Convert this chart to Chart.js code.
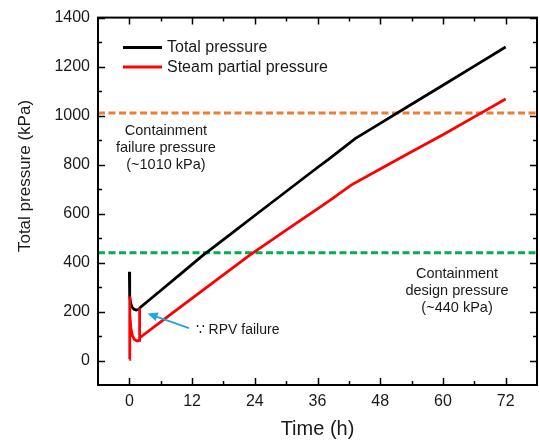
<!DOCTYPE html>
<html>
<head>
<meta charset="utf-8">
<script src="https://cdn.jsdelivr.net/npm/chart.js@4.4.1/dist/chart.umd.min.js"></script>
<style>
  html, body { margin: 0; padding: 0; background: #fff; }
  #wrap { width: 540px; height: 441px; }
</style>
</head>
<body>
<div id="wrap"><canvas id="pressureChart" width="540" height="441"></canvas></div>
<script>
// containment pressure history, time in hours, pressure in kPa
var timeTotal = [0, 0.03, 0.1, 0.25, 0.5, 0.9, 1.3, 1.7, 1.95, 2.2, 6, 10, 14, 20, 24, 30, 36, 38.1, 43.2, 48, 54, 60, 66, 72];
var totalPressure = [362, 300, 262, 235, 218, 209, 206, 208, 212, 219, 286, 357, 428, 526, 592, 690, 788, 821, 906, 968, 1046, 1124, 1202, 1280];

var timeSteam = [0, 0.03, 0.12, 0.3, 0.6, 1.0, 1.5, 1.88, 1.93, 2.0, 2.3, 6, 10, 16, 22.9, 30, 38.1, 42.5, 48, 54, 60, 67.6, 72];
var steamPressure = [5, 262, 190, 130, 100, 85, 80, 82, 213, 92, 98, 158, 222, 318, 428, 532, 650, 717, 782, 852, 922, 1014, 1068];

var xTicks = [0, 12, 24, 36, 48, 60, 72];
var yTicks = [0, 200, 400, 600, 800, 1000, 1200, 1400];

var failurePressure = 1010;
var designPressure = 440;

var FONT = 'Arial, "Liberation Sans", sans-serif';
var TEXT = '#1a1a1a';

function toPoints(xs, ys) {
    return xs.map(function(t, i) { return {x: t, y: ys[i]}; });
}

function midpoints(list) {
    return list.slice(1).map(function(v, i) { return (v + list[i]) / 2; });
}

// frame with inward ticks on every side
var frameTicks = {
    id: 'frameTicks',
    afterDraw: function(chart) {
        var c = chart.ctx;
        var a = chart.chartArea;
        var sx = chart.scales.x;
        var sy = chart.scales.y;
        c.save();
        c.setLineDash([]);
        c.strokeStyle = '#000000';
        c.lineWidth = 1.5;
        var marks = [];
        xTicks.forEach(function(v) { marks.push(['x', v, 7]); });
        midpoints(xTicks).forEach(function(v) { marks.push(['x', v, 4]); });
        yTicks.forEach(function(v) { marks.push(['y', v, 7]); });
        midpoints(yTicks).forEach(function(v) { marks.push(['y', v, 4]); });
        marks.forEach(function(m) {
            c.beginPath();
            if (m[0] === 'x') {
                var px = Math.round(sx.getPixelForValue(m[1])) + 0.5;
                c.moveTo(px, a.bottom); c.lineTo(px, a.bottom - m[2]);
                c.moveTo(px, a.top); c.lineTo(px, a.top + m[2]);
            } else {
                var py = Math.round(sy.getPixelForValue(m[1])) + 0.5;
                c.moveTo(a.left, py); c.lineTo(a.left + m[2], py);
                c.moveTo(a.right, py); c.lineTo(a.right - m[2], py);
            }
            c.stroke();
        });
        c.lineWidth = 2;
        c.strokeRect(a.left, a.top, a.right - a.left, a.bottom - a.top);
        c.restore();
    }
};

var notes = {
    id: 'notes',
    afterDatasetsDraw: function(chart) {
        var c = chart.ctx;
        var a = chart.chartArea;
        var x = chart.scales.x;
        var y = chart.scales.y;
        c.save();

        // legend
        var lx = a.left + 25, ly = a.top + 30;
        var entries = [chart.data.datasets[1], chart.data.datasets[0]];
        c.font = '16px ' + FONT;
        c.textBaseline = 'middle';
        c.textAlign = 'left';
        entries.forEach(function(ds, i) {
            var yy = ly + i * 19.5;
            c.strokeStyle = ds.borderColor;
            c.lineWidth = 3;
            c.beginPath();
            c.moveTo(lx, yy); c.lineTo(lx + 39, yy);
            c.stroke();
            c.fillStyle = TEXT;
            c.fillText(ds.label, lx + 44, yy);
        });

        // limit annotations
        c.font = '14.5px ' + FONT;
        c.textAlign = 'center';
        c.fillStyle = TEXT;
        var fx = x.getPixelForValue(7), fy = y.getPixelForValue(938);
        ['Containment', 'failure pressure', '(~' + failurePressure + ' kPa)'].forEach(function(s, i) {
            c.fillText(s, fx, fy + i * 17);
        });
        var dx = x.getPixelForValue(62.7), dy = y.getPixelForValue(352);
        ['Containment', 'design pressure', '(~' + designPressure + ' kPa)'].forEach(function(s, i) {
            c.fillText(s, dx, dy + i * 17);
        });

        // RPV failure arrow
        var tx = x.getPixelForValue(11.4), ty = y.getPixelForValue(132);
        var hx = x.getPixelForValue(3.5), hy = y.getPixelForValue(192);
        var ang = Math.atan2(hy - ty, hx - tx);
        c.strokeStyle = '#1ea7e1';
        c.fillStyle = '#1ea7e1';
        c.lineWidth = 2;
        c.beginPath();
        c.moveTo(tx, ty);
        c.lineTo(hx - 7 * Math.cos(ang), hy - 7 * Math.sin(ang));
        c.stroke();
        c.beginPath();
        c.moveTo(hx, hy);
        c.lineTo(hx - 10 * Math.cos(ang) + 4.5 * Math.sin(ang), hy - 10 * Math.sin(ang) - 4.5 * Math.cos(ang));
        c.lineTo(hx - 10 * Math.cos(ang) - 4.5 * Math.sin(ang), hy - 10 * Math.sin(ang) + 4.5 * Math.cos(ang));
        c.closePath();
        c.fill();

        c.font = '14px ' + FONT;
        c.textAlign = 'left';
        c.fillStyle = TEXT;
        c.fillText('\u2235 RPV failure', x.getPixelForValue(12.7), y.getPixelForValue(122));

        // axis titles
        c.font = '20px ' + FONT;
        c.textAlign = 'center';
        c.fillText('Time (h)', (a.left + a.right) / 2, 429);
        c.translate(25, 176);
        c.rotate(-Math.PI / 2);
        c.font = '17px ' + FONT;
        c.fillText('Total pressure (kPa)', 0, 0);
        c.restore();
    }
};

var ctx = document.getElementById('pressureChart').getContext('2d');
var pressureChart = new Chart(ctx, {
    type: 'line',
    data: {
        datasets: [
            {
                label: 'Steam partial pressure',
                data: toPoints(timeSteam, steamPressure),
                borderColor: '#ff0000',
                borderWidth: 2.8,
                pointRadius: 0,
                tension: 0
            },
            {
                label: 'Total pressure',
                data: toPoints(timeTotal, totalPressure),
                borderColor: '#000000',
                borderWidth: 2.8,
                pointRadius: 0,
                tension: 0
            },
            {
                label: 'failure',
                data: [{x: -6, y: failurePressure}, {x: 78, y: failurePressure}],
                borderColor: '#ed7d31',
                borderWidth: 3,
                borderDash: [7, 3.5],
                pointRadius: 0
            },
            {
                label: 'design',
                data: [{x: -6, y: designPressure}, {x: 78, y: designPressure}],
                borderColor: '#00b050',
                borderWidth: 3,
                borderDash: [7, 3.5],
                pointRadius: 0
            }
        ]
    },
    options: {
        responsive: false,
        animation: false,
        devicePixelRatio: 1,
        layout: { padding: { top: 13, right: 3, left: 0, bottom: 0 } },
        plugins: {
            legend: { display: false },
            tooltip: { enabled: false }
        },
        scales: {
            x: {
                type: 'linear',
                min: -6,
                max: 78,
                grid: { display: false, drawTicks: false },
                border: { display: false },
                afterBuildTicks: function(scale) {
                    scale.ticks = xTicks.map(function(v) { return {value: v}; });
                },
                afterFit: function(scale) { scale.height = 56; },
                ticks: {
                    padding: 7,
                    color: TEXT,
                    font: { size: 16, family: FONT },
                    maxRotation: 0,
                    callback: function(v) { return String(v); }
                }
            },
            y: {
                min: -100,
                max: 1400,
                grid: { display: false, drawTicks: false },
                border: { display: false },
                afterBuildTicks: function(scale) {
                    scale.ticks = yTicks.map(function(v) { return {value: v}; });
                },
                afterFit: function(scale) { scale.width = 98; },
                ticks: {
                    padding: 8,
                    color: TEXT,
                    font: { size: 16, family: FONT },
                    callback: function(v) { return String(v); }
                }
            }
        }
    },
    plugins: [notes, frameTicks]
});
</script>
</body>
</html>
